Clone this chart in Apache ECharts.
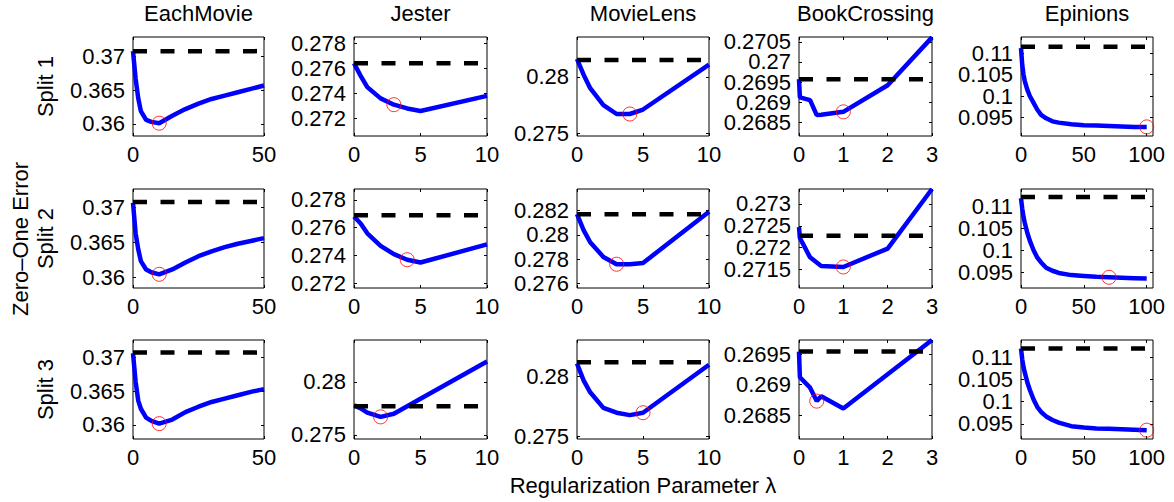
<!DOCTYPE html>
<html>
<head>
<meta charset="utf-8">
<script src="https://cdn.jsdelivr.net/npm/echarts@6/dist/echarts.min.js"></script>
<style>
  html, body { margin: 0; padding: 0; background: #fff; }
  #chart { width: 1174px; height: 502px; }
</style>
</head>
<body>
<div id="chart"></div>
<script>
// column titles / row labels
var datasets = ['EachMovie', 'Jester', 'MovieLens', 'BookCrossing', 'Epinions'];
var splits = ['Split 1', 'Split 2', 'Split 3'];

// EachMovie
var emLambda = [0, 1, 2, 3, 5, 7, 10, 15, 20, 25, 30, 35, 40, 45, 50];
var emErr1 = [0.3708, 0.3667, 0.3638, 0.3619, 0.3606, 0.3603, 0.3601, 0.3612, 0.3622, 0.3630, 0.3637, 0.3642, 0.3647, 0.3652, 0.3657];
var emErr2 = [0.3707, 0.3663, 0.3640, 0.3623, 0.3611, 0.3607, 0.3604, 0.3611, 0.3621, 0.3630, 0.3637, 0.3643, 0.3648, 0.3652, 0.3656];
var emErr3 = [0.3706, 0.3664, 0.3636, 0.3624, 0.3611, 0.3606, 0.3602, 0.3608, 0.3619, 0.3627, 0.3634, 0.3639, 0.3644, 0.3649, 0.3653];
var emBase = [0.3708, 0.3708, 0.3707];
var emBest = [10, 10, 10];

// Jester
var jeLambda = [0, 0.5, 1, 2, 3, 4, 5, 10];
var jeErr1 = [0.2764, 0.2754, 0.2745, 0.2736, 0.2731, 0.2728, 0.2726, 0.2738];
var jeErr2 = [0.2768, 0.2763, 0.2756, 0.2747, 0.2741, 0.2737, 0.2735, 0.2748];
var jeErr3 = [0.2778, 0.2775, 0.2771, 0.2767, 0.2770, 0.2777, 0.2784, 0.2819];
var jeBase = [0.2764, 0.2769, 0.2777];
var jeBest = [3, 4, 2];

// MovieLens
var mlLambda = [0, 0.5, 1, 2, 3, 4, 5, 10];
var mlErr1 = [0.2816, 0.2802, 0.2790, 0.2775, 0.2767, 0.2767, 0.2771, 0.2811];
var mlErr2 = [0.2817, 0.2804, 0.2794, 0.2782, 0.2776, 0.2776, 0.2777, 0.2819];
var mlErr3 = [0.2811, 0.2797, 0.2787, 0.2774, 0.2770, 0.2768, 0.2770, 0.2810];
var mlBase = [0.2815, 0.2817, 0.2812];
var mlBest = [4, 3, 5];

// BookCrossing
var bcLambda = [0, 0.02, 0.25, 0.4, 0.5, 1, 2, 3];
var bcErr1 = [0.26957, 0.26912, 0.26905, 0.26868, 0.26869, 0.26876, 0.26942, 0.27061];
var bcErr2 = [0.27247, 0.27222, 0.27178, 0.27166, 0.27158, 0.27156, 0.27198, 0.27334];
var bcErr3 = [0.26954, 0.26912, 0.26895, 0.26873, 0.26881, 0.26861, 0.26917, 0.26973];
var bcBase = [0.26957, 0.27227, 0.26954];
var bcBest = [1, 1, 0.4];

// Epinions
var epLambda = [0, 1, 2, 3, 5, 7, 10, 13, 16, 20, 25, 30, 40, 50, 60, 70, 80, 90, 100];
var epErr1 = [0.1112, 0.1072, 0.1050, 0.1035, 0.1015, 0.1000, 0.0984, 0.0968, 0.0956, 0.0948, 0.0941, 0.0938, 0.0934, 0.0932, 0.0931, 0.0930, 0.0929, 0.0928, 0.0928];
var epErr2 = [0.1119, 0.1095, 0.1076, 0.1063, 0.1040, 0.1022, 0.1000, 0.0983, 0.0972, 0.0960, 0.0953, 0.0948, 0.0943, 0.0941, 0.0939, 0.0938, 0.0937, 0.0936, 0.0935];
var epErr3 = [0.1120, 0.1095, 0.1078, 0.1066, 0.1044, 0.1027, 0.1005, 0.0988, 0.0977, 0.0967, 0.0959, 0.0953, 0.0945, 0.0942, 0.0940, 0.0939, 0.0938, 0.0937, 0.0936];
var epBase = [0.1115, 0.1122, 0.1120];
var epBest = [100, 70, 100];

// tick labels
var xTicks = [[0, 50], [0, 5, 10], [0, 5, 10], [0, 1, 2, 3], [0, 50, 100]];
var yTicks = [
  [[0.36, 0.365, 0.37], [0.272, 0.274, 0.276, 0.278], [0.275, 0.28], [0.2685, 0.269, 0.2695, 0.27, 0.2705], [0.095, 0.1, 0.105, 0.11]],
  [[0.36, 0.365, 0.37], [0.272, 0.274, 0.276, 0.278], [0.276, 0.278, 0.28, 0.282], [0.2715, 0.272, 0.2725, 0.273], [0.095, 0.1, 0.105, 0.11]],
  [[0.36, 0.365, 0.37], [0.275, 0.28], [0.275, 0.28], [0.2685, 0.269, 0.2695], [0.095, 0.1, 0.105, 0.11]]
];

// axis limits
var xMax = [50, 10, 10, 3, 105];
var yLim = [
  [[0.3582, 0.3729], [0.2706, 0.2785], [0.27474, 0.28356], [0.26816, 0.27062], [0.09068, 0.11376]],
  [[0.35843, 0.37267], [0.27167, 0.27878], [0.27565, 0.28377], [0.27108, 0.27334], [0.09135, 0.11402]],
  [[0.35793, 0.37256], [0.27462, 0.28393], [0.27481, 0.28306], [0.26811, 0.26973], [0.09162, 0.11389]]
];

var lambdas = [emLambda, jeLambda, mlLambda, bcLambda, epLambda];
var errors = [
  [emErr1, emErr2, emErr3],
  [jeErr1, jeErr2, jeErr3],
  [mlErr1, mlErr2, mlErr3],
  [bcErr1, bcErr2, bcErr3],
  [epErr1, epErr2, epErr3]
];
var bases = [emBase, jeBase, mlBase, bcBase, epBase];
var bests = [emBest, jeBest, mlBest, bcBest, epBest];

// layout (pixels)
var colLeft = [133, 354, 577, 799, 1021];
var colWidth = [131, 133, 132, 133, 132];
var rowTop = [37, 189, 340];
var rowHeight = 99;
var FONT = '"Liberation Sans", Arial, Helvetica, sans-serif';

function fmt(v) { return String(parseFloat(v.toFixed(5))); }

var grids = [], xAxes = [], yAxes = [], series = [];

function tickStyle(vals, show) {
  return { show: show, inside: true, length: 3, customValues: vals, lineStyle: { color: '#000', width: 1 } };
}

for (var r = 0; r < 3; r++) {
  for (var c = 0; c < 5; c++) {
    var g = grids.length;
    grids.push({
      left: colLeft[c], top: rowTop[r], width: colWidth[c], height: rowHeight,
      show: true, borderColor: '#000', borderWidth: 1, backgroundColor: '#fff'
    });

    var xi = xAxes.length;
    xAxes.push({
      gridIndex: g, type: 'value', position: 'bottom', min: 0, max: xMax[c],
      axisLine: { show: false }, splitLine: { show: false }, axisTick: tickStyle(xTicks[c], true),
      axisLabel: {
        customValues: xTicks[c], showMinLabel: true, showMaxLabel: true,
        color: '#000', fontSize: 22, fontFamily: FONT, margin: 9, lineHeight: 18
      }
    });
    xAxes.push({
      gridIndex: g, type: 'value', position: 'top', min: 0, max: xMax[c],
      axisLine: { show: false }, splitLine: { show: false }, axisTick: tickStyle(xTicks[c], true),
      axisLabel: { show: false }
    });

    // tick labels are split over two stacked left axes so that
    // closely spaced labels are never dropped by the overlap check
    var yt = yTicks[r][c];
    var evenT = yt.filter(function (v, i) { return i % 2 === 0; });
    var oddT = yt.filter(function (v, i) { return i % 2 === 1; });
    var yi = yAxes.length;
    [evenT, oddT].forEach(function (labs, k) {
      yAxes.push({
        gridIndex: g, type: 'value', position: 'left', offset: 0,
        min: yLim[r][c][0], max: yLim[r][c][1],
        axisLine: { show: false }, splitLine: { show: false },
        axisTick: tickStyle(yt, k === 0),
        axisLabel: {
          customValues: labs, showMinLabel: true, showMaxLabel: true, hideOverlap: false,
          formatter: fmt, color: '#000', fontSize: 22, fontFamily: FONT, margin: 8, lineHeight: 16
        }
      });
    });
    yAxes.push({
      gridIndex: g, type: 'value', position: 'right', min: yLim[r][c][0], max: yLim[r][c][1],
      axisLine: { show: false }, splitLine: { show: false }, axisTick: tickStyle(yt, true),
      axisLabel: { show: false }
    });

    var lam = lambdas[c], err = errors[c][r];
    var pts = lam.map(function (l, i) { return [l, err[i]]; });
    var lastL = lam[lam.length - 1];
    var bestIdx = lam.indexOf(bests[c][r]);

    // regularized error curve
    series.push({
      type: 'line', xAxisIndex: xi, yAxisIndex: yi, data: pts,
      symbol: 'none', clip: false, silent: true, z: 3,
      lineStyle: { color: '#0000ff', width: 4.5 }
    });
    // baseline
    series.push({
      type: 'line', xAxisIndex: xi, yAxisIndex: yi,
      data: [[0, bases[c][r]], [lastL, bases[c][r]]],
      symbol: 'none', clip: false, silent: true, z: 4,
      lineStyle: { color: '#000', width: 4.5, type: [14, 13.5] }
    });
    // selected lambda
    series.push({
      type: 'scatter', xAxisIndex: xi, yAxisIndex: yi,
      data: [[bests[c][r], err[bestIdx]]],
      symbol: 'circle', symbolSize: 14, silent: true, z: 5,
      itemStyle: { color: 'rgba(0,0,0,0)', borderColor: '#ff0000', borderWidth: 1 }
    });
  }
}

var graphics = [];
datasets.forEach(function (name, c) {
  graphics.push({
    type: 'text', x: colLeft[c] + colWidth[c] / 2, y: 13,
    style: { text: name, font: '22px ' + FONT, fill: '#000', textAlign: 'center', textVerticalAlign: 'middle' }
  });
});
splits.forEach(function (name, r) {
  graphics.push({
    type: 'text', x: 45, y: rowTop[r] + rowHeight / 2, rotation: Math.PI / 2,
    style: { text: name, font: '22px ' + FONT, fill: '#000', textAlign: 'center', textVerticalAlign: 'middle' }
  });
});
graphics.push({
  type: 'text', x: 20, y: 239, rotation: Math.PI / 2,
  style: { text: 'Zero\u2013One Error', font: '22px ' + FONT, fill: '#000', textAlign: 'center', textVerticalAlign: 'middle' }
});
graphics.push({
  type: 'text', x: 643, y: 485,
  style: { text: 'Regularization Parameter \u03bb', font: '22px ' + FONT, fill: '#000', textAlign: 'center', textVerticalAlign: 'middle' }
});

var chart = echarts.init(document.getElementById('chart'), null, { renderer: 'svg' });
chart.setOption({
  animation: false,
  backgroundColor: '#fff',
  grid: grids,
  xAxis: xAxes,
  yAxis: yAxes,
  series: series,
  graphic: graphics
});
</script>
</body>
</html>
